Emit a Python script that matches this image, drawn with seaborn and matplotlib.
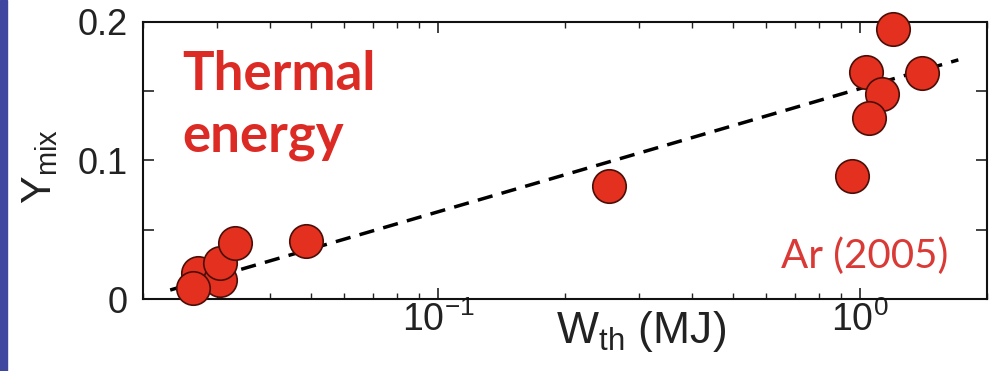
import matplotlib
matplotlib.use("Agg")
import matplotlib.pyplot as plt
from matplotlib.patches import Rectangle
from matplotlib.ticker import LogLocator, FixedLocator, NullFormatter
import seaborn as sns
import pandas as pd

# Measured shots: thermal energy (MJ) vs. mixing fraction
w_th = [0.0270, 0.0304, 0.0263, 0.0304, 0.0330, 0.0488, 0.254,
        0.958, 1.035, 1.127, 1.048, 1.196, 1.399]
y_mix = [0.0186, 0.0137, 0.0077, 0.0258, 0.0402, 0.0419, 0.0816,
         0.0888, 0.1641, 0.1480, 0.1305, 0.1947, 0.1634]

# Log-linear trend line end points
fit_x = [0.0232, 1.71]
fit_y = [0.0065, 0.1726]

y_ticks = [0, 0.05, 0.1, 0.15, 0.2]
y_tick_labels = ["0", "", "0.1", "", "0.2"]

sns.set_style("ticks")
plt.rcParams["font.family"] = ["Liberation Sans", "DejaVu Sans"]
plt.rcParams["mathtext.fontset"] = "custom"
plt.rcParams["mathtext.rm"] = "Liberation Sans"
plt.rcParams["mathtext.it"] = "Liberation Sans:italic"
plt.rcParams["mathtext.bf"] = "Liberation Sans:bold"

ink = "#222222"
face = "#e3301f"
edge = "#4a0f08"

fig, ax = plt.subplots(figsize=(9.93, 3.71), dpi=100)
fig.subplots_adjust(left=0.144, right=0.994, bottom=0.194, top=0.941)
fig.patches.append(Rectangle((0, 0), 7 / 993, 1, transform=fig.transFigure,
                             color="#3e46a0", zorder=0))

ax.set_xscale("log")

pts = pd.DataFrame({"W_th": w_th, "Y_mix": y_mix})
fit = pd.DataFrame({"W_th": fit_x, "Y_mix": fit_y})

sns.lineplot(data=fit, x="W_th", y="Y_mix", ax=ax, color="black", lw=2.5,
             linestyle=(0, (4.4, 2.7)), zorder=2)
sns.scatterplot(data=pts, x="W_th", y="Y_mix", ax=ax, s=580, color=face,
                edgecolor=edge, linewidth=1.2, zorder=3, clip_on=False)

ax.set_xlim(0.02, 2)
ax.set_ylim(0, 0.2)

ax.xaxis.set_major_locator(FixedLocator([0.1, 1]))
ax.xaxis.set_minor_locator(LogLocator(base=10, subs=range(2, 10)))
ax.xaxis.set_minor_formatter(NullFormatter())
ax.set_yticks(y_ticks)
ax.set_yticklabels(y_tick_labels)

ax.tick_params(which="both", direction="in", top=True, right=True,
               color=ink, labelcolor=ink)
ax.tick_params(which="major", length=8, width=1.2)
ax.tick_params(axis="x", which="major", pad=2, labelsize=27)
ax.tick_params(axis="y", which="major", pad=11, labelsize=26)
ax.tick_params(which="minor", length=4, width=1)

for sp in ax.spines.values():
    sp.set_linewidth(1.5)
    sp.set_color("#111111")

ax.set_xlabel(r"W$_{\mathrm{th}}$ (MJ)", fontsize=32, color=ink)
ax.xaxis.set_label_coords(0.59, -0.035)
ax.set_ylabel(r"Y$_{\mathrm{mix}}$", fontsize=30, color=ink)
ax.yaxis.set_label_coords(-0.098, 0.48)

ax.text(0.046, 0.90, "Thermal\nenergy", transform=ax.transAxes, fontsize=38,
        fontweight="bold", color="#dc2b24", family="Lato", va="top",
        ha="left", linespacing=1.32)
ax.text(0.954, 0.155, "Ar (2005)", transform=ax.transAxes, fontsize=29,
        color="#da3a36", family="Lato", va="center", ha="right")

fig.savefig("out.png", dpi=100)
